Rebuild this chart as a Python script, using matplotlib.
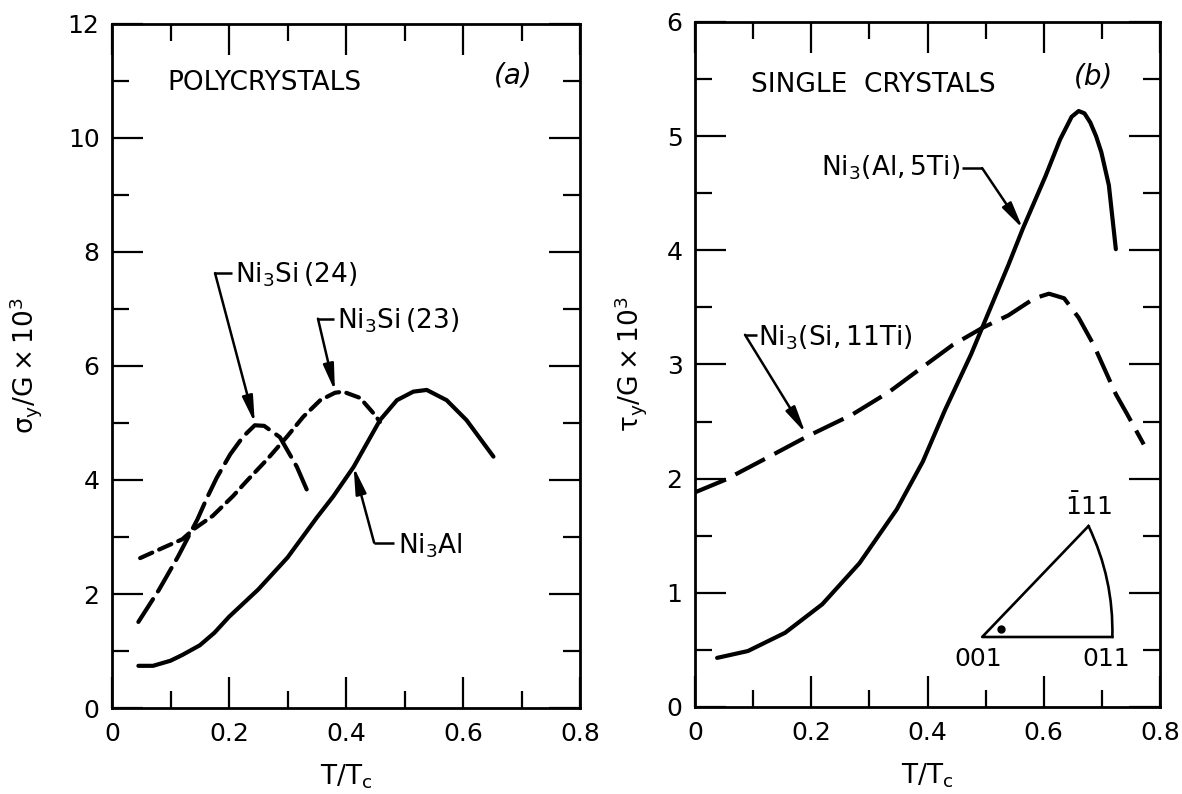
import numpy as np
import matplotlib.pyplot as plt
from matplotlib.ticker import MultipleLocator

plt.rcParams['font.family'] = 'DejaVu Sans'
plt.rcParams['mathtext.default'] = 'regular'
plt.rcParams['lines.solid_joinstyle'] = 'round'
plt.rcParams['lines.dash_joinstyle'] = 'round'

# === data: (a) polycrystals ===
ni3al_x = [0.045, 0.07, 0.10, 0.12, 0.15, 0.175, 0.20, 0.25, 0.30, 0.35, 0.378, 0.413, 0.458,
           0.487, 0.515, 0.538, 0.572, 0.606, 0.652]
ni3al_y = [0.74, 0.74, 0.83, 0.93, 1.10, 1.32, 1.60, 2.08, 2.64, 3.34, 3.71, 4.23, 5.05,
           5.40, 5.55, 5.58, 5.40, 5.05, 4.41]

si24_x = [0.045, 0.08, 0.113, 0.146, 0.162, 0.179, 0.202, 0.224, 0.244, 0.26, 0.287, 0.316, 0.338]
si24_y = [1.51, 2.07, 2.66, 3.31, 3.68, 4.04, 4.45, 4.76, 4.96, 4.95, 4.75, 4.23, 3.71]

si23_x = [0.048, 0.087, 0.12, 0.14, 0.172, 0.207, 0.23, 0.265, 0.299, 0.327, 0.356, 0.381,
          0.395, 0.424, 0.447, 0.458]
si23_y = [2.63, 2.81, 2.96, 3.14, 3.37, 3.72, 3.98, 4.36, 4.76, 5.11, 5.40, 5.53,
          5.55, 5.44, 5.17, 5.02]

# === data: (b) single crystals ===
al5ti_x = [0.038, 0.091, 0.155, 0.219, 0.283, 0.347, 0.392, 0.43, 0.475, 0.507, 0.539, 0.564,
           0.603, 0.628, 0.648, 0.66, 0.67, 0.68, 0.69, 0.699, 0.712, 0.724]
al5ti_y = [0.43, 0.49, 0.65, 0.90, 1.26, 1.73, 2.15, 2.60, 3.09, 3.48, 3.87, 4.19,
           4.65, 4.97, 5.17, 5.22, 5.20, 5.12, 5.00, 4.86, 4.57, 4.01]

si11ti_x = [0.0, 0.052, 0.123, 0.193, 0.27, 0.334, 0.379, 0.443, 0.494, 0.539, 0.584, 0.609,
            0.635, 0.66, 0.686, 0.724, 0.744, 0.772]
si11ti_y = [1.88, 1.99, 2.18, 2.37, 2.56, 2.76, 2.93, 3.17, 3.32, 3.43, 3.58, 3.62,
            3.58, 3.41, 3.17, 2.74, 2.56, 2.30]

# stereographic triangle inset (001, 011, -111) and loading axis
tri_x = [0.494, 0.718, 0.677]
tri_y = [0.613, 0.613, 1.585]
axis_pt = (0.526, 0.687)

LW = 3.0
FS_TICK = 18
FS_TEXT = 19
ARROW = dict(arrowstyle='-|>,head_length=1.0,head_width=0.2', lw=1.8, color='black',
             shrinkA=0, shrinkB=0, mutation_scale=16)


def style_axes(ax, ymax, ymaj, ymin):
    ax.set_xlim(0, 0.8)
    ax.set_ylim(0, ymax)
    ax.xaxis.set_major_locator(MultipleLocator(0.2))
    ax.xaxis.set_minor_locator(MultipleLocator(0.1))
    ax.yaxis.set_major_locator(MultipleLocator(ymaj))
    ax.yaxis.set_minor_locator(MultipleLocator(ymin))
    ax.tick_params(which='both', direction='in', top=True, right=True, width=1.6,
                   labelsize=FS_TICK)
    ax.tick_params(which='major', length=22)
    ax.tick_params(which='minor', length=12)
    ax.tick_params(axis='x', which='both', pad=10)
    ax.tick_params(axis='y', which='both', pad=9)
    for s in ax.spines.values():
        s.set_linewidth(2.0)
    ax.xaxis.set_major_formatter(lambda v, p: '0' if v == 0 else f'{v:.1f}')
    ax.set_xlabel(r'$\mathregular{T/T_c}$', fontsize=FS_TEXT, labelpad=12)


def leader(ax, text, text_xy, elbow, tip, ha='left'):
    # short horizontal stub next to the label, then the arrow to the curve
    ax.plot([elbow[0], elbow[1]], [elbow[2], elbow[2]], color='black', lw=1.8,
            solid_capstyle='butt')
    ax.annotate('', xy=tip, xytext=(elbow[1], elbow[2]), arrowprops=ARROW)
    ax.text(text_xy[0], text_xy[1], text, fontsize=FS_TEXT, ha=ha, va='center')


fig = plt.figure(figsize=(11.82, 7.94), dpi=100)
ax1 = fig.add_axes([0.0948, 0.1083, 0.3959, 0.8615])
ax2 = fig.add_axes([0.5880, 0.1096, 0.3934, 0.8627])

# --- (a) ---
style_axes(ax1, 12, 2, 1)
ax1.plot(ni3al_x, ni3al_y, color='black', lw=LW, solid_capstyle='round')
ax1.plot(si24_x, si24_y, color='black', lw=LW, linestyle=(0, (6.5, 2.2)), dash_capstyle='round')
ax1.plot(si23_x, si23_y, color='black', lw=LW, linestyle=(0, (3.2, 1.8)), dash_capstyle='round')
ax1.set_ylabel(r'$\mathregular{\sigma_y/G\times10^3}$', fontsize=FS_TEXT)
ax1.yaxis.set_label_coords(-0.145, 0.5)

ax1.text(0.095, 10.97, 'POLYCRYSTALS', fontsize=FS_TEXT, ha='left', va='center')
ax1.text(0.685, 11.1, '(a)', fontsize=20, style='italic', ha='center', va='center')

leader(ax1, r'$\mathregular{Ni_3Si\,(24)}$', (0.21, 7.6), (0.205, 0.176, 7.63), (0.244, 5.0))
leader(ax1, r'$\mathregular{Ni_3Si\,(23)}$', (0.385, 6.8), (0.38, 0.352, 6.83), (0.381, 5.56))
leader(ax1, r'$\mathregular{Ni_3Al}$', (0.488, 2.85), (0.482, 0.448, 2.9), (0.413, 4.23))

# --- (b) ---
style_axes(ax2, 6, 1, 0.5)
ax2.plot(al5ti_x, al5ti_y, color='black', lw=LW, solid_capstyle='round')
ax2.plot(si11ti_x, si11ti_y, color='black', lw=LW, linestyle=(0, (8, 2.6)), dash_capstyle='butt')
ax2.set_ylabel(r'$\mathregular{\tau_y/G\times10^3}$', fontsize=FS_TEXT)
ax2.yaxis.set_label_coords(-0.10, 0.5)

ax2.text(0.097, 5.45, 'SINGLE  CRYSTALS', fontsize=FS_TEXT, ha='left', va='center')
ax2.text(0.685, 5.52, '(b)', fontsize=20, style='italic', ha='center', va='center')

leader(ax2, r'$\mathregular{Ni_3(Al,5Ti)}$', (0.457, 4.72), (0.459, 0.494, 4.72), (0.564, 4.19),
       ha='right')
leader(ax2, r'$\mathregular{Ni_3(Si,11Ti)}$', (0.108, 3.23), (0.106, 0.086, 3.26), (0.19, 2.40))

# inset triangle
ax2.plot([tri_x[2], tri_x[0], tri_x[1]], [tri_y[2], tri_y[0], tri_y[1]], color='black', lw=1.9)
ax2.annotate('', xy=(tri_x[2], tri_y[2]), xytext=(tri_x[1], tri_y[1]),
             arrowprops=dict(arrowstyle='-', lw=1.9, color='black', shrinkA=0, shrinkB=0,
                             connectionstyle='arc3,rad=0.12'))
ax2.plot(*axis_pt, 'o', color='black', markersize=5)
ax2.text(tri_x[0] - 0.006, tri_y[0] - 0.19, '001', fontsize=18, ha='center', va='center')
ax2.text(tri_x[1] - 0.01, tri_y[1] - 0.19, '011', fontsize=18, ha='center', va='center')
ax2.text(tri_x[2], tri_y[2] + 0.17, r'$\mathregular{\bar{1}11}$', fontsize=18, ha='center',
         va='center')

fig.savefig('out.png', dpi=100)
